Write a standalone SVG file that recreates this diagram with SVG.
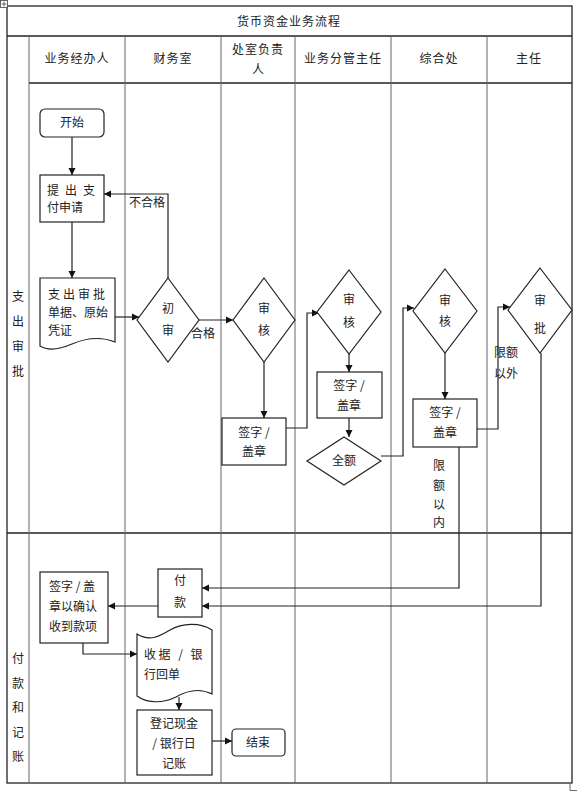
<svg xmlns="http://www.w3.org/2000/svg" width="577" height="791" viewBox="0 0 577 791">
<defs>
<marker id="ah" markerWidth="8" markerHeight="8" refX="7" refY="4" orient="auto" markerUnits="userSpaceOnUse"><path d="M0,0.5 L7,4 L0,7.5 Z" fill="#111"/></marker>
</defs>
<style>
text{font-family:"Noto Sans CJK SC","Noto Sans",sans-serif;font-size:12px;fill:#222}
.c{text-anchor:middle}
.n{fill:#fff;stroke:#222;stroke-width:1.2}
.ln{fill:none;stroke:#222;stroke-width:1.2;marker-end:url(#ah)}
.tl{stroke:#222;stroke-width:1.3;fill:none}
.cl{stroke:#666;stroke-width:1}
.sp{letter-spacing:3px}
</style>
<rect width="577" height="791" fill="#fff"/>
<g id="table">
<rect x="7" y="6" width="565" height="777" class="tl"/>
<line x1="7" y1="36" x2="572" y2="36" class="tl"/>
<line x1="29" y1="83" x2="572" y2="83" class="tl"/>
<line x1="7" y1="533" x2="572" y2="533" class="tl"/>
<line x1="29" y1="36" x2="29" y2="783" class="cl"/>
<line x1="125" y1="36" x2="125" y2="783" class="cl"/>
<line x1="221" y1="36" x2="221" y2="783" class="cl"/>
<line x1="295" y1="36" x2="295" y2="783" class="cl"/>
<line x1="391" y1="36" x2="391" y2="783" class="cl"/>
<line x1="487" y1="36" x2="487" y2="783" class="cl"/>
<text x="289" y="26" class="c" style="letter-spacing:1px">货币资金业务流程</text>
<text x="77" y="63" class="c" style="letter-spacing:1px">业务经办人</text>
<text x="173" y="63" class="c" style="letter-spacing:1px">财务室</text>
<text x="258" y="54" class="c" style="letter-spacing:1px">处室负责</text>
<text x="258" y="74" class="c">人</text>
<text x="343" y="63" class="c" style="letter-spacing:1px">业务分管主任</text>
<text x="439" y="63" class="c" style="letter-spacing:1px">综合处</text>
<text x="529" y="63" class="c" style="letter-spacing:1px">主任</text>
<text x="18" class="c"><tspan x="18" y="301">支</tspan><tspan x="18" y="326">出</tspan><tspan x="18" y="351">审</tspan><tspan x="18" y="376">批</tspan></text>
<text x="18" class="c"><tspan x="18" y="663">付</tspan><tspan x="18" y="688">款</tspan><tspan x="18" y="712">和</tspan><tspan x="18" y="737">记</tspan><tspan x="18" y="761">账</tspan></text>
<rect x="0.5" y="0.5" width="7" height="7" fill="#fff" stroke="#444" stroke-width="0.8"/>
<path d="M4,1.5 V6.5 M1.5,4 H6.5" stroke="#444" stroke-width="0.8"/>
<path d="M570,784 V790.5 H577" fill="none" stroke="#444" stroke-width="0.8"/>
</g>
<g id="connectors">
<path d="M72,137 V175" class="ln"/>
<path d="M72,222 V278" class="ln"/>
<path d="M115,317 H139" class="ln"/>
<path d="M168,278 V194 H104" class="ln"/>
<path d="M199,320 H233" class="ln"/>
<path d="M264,362 V418" class="ln"/>
<path d="M286,428 H307 V313 H319" class="ln"/>
<path d="M349,354 V372" class="ln"/>
<path d="M349,418 V437" class="ln"/>
<path d="M381,456 H403 V308 H414" class="ln"/>
<path d="M445,353 V399" class="ln"/>
<path d="M477,429 H498 V307 H510" class="ln"/>
<path d="M459,447 V588 H202" class="ln"/>
<path d="M541,353 V606 H202" class="ln"/>
<path d="M158,606 H108" class="ln"/>
<path d="M83,643 V654 H137" class="ln"/>
<path d="M179,697 V710" class="ln"/>
<path d="M212,741 H232" class="ln"/>
<text x="147" y="207" class="c">不合格</text>
<text x="203" y="338" class="c">合格</text>
<text x="494" y="357">限额</text>
<text x="494" y="378">以外</text>
<text class="c"><tspan x="439" y="470">限</tspan><tspan x="439" y="490">额</tspan><tspan x="439" y="509">以</tspan><tspan x="439" y="527">内</tspan></text>
</g>
<g id="start">
<rect x="40" y="109" width="64" height="28" rx="5" class="n"/>
<text x="72" y="127" class="c">开始</text>
</g>
<g id="apply">
<rect x="40" y="175" width="64" height="47" class="n"/>
<text x="47" y="195" style="letter-spacing:6px">提出支</text>
<text x="47" y="212">付申请</text>
</g>
<g id="doc1">
<path d="M40,278 H115 V342 C100,336 86,338 72,344 C58,350 48,351 40,346 Z" class="n"/>
<text x="48" y="299" class="sp">支出审批</text>
<text x="48" y="317">单据、原始</text>
<text x="48" y="335">凭证</text>
</g>
<g id="d-chushen">
<path d="M168,278 L199,320 L168,362 L137,320 Z" class="n"/>
<text x="168" y="313" class="c">初</text>
<text x="168" y="335" class="c">审</text>
</g>
<g id="d-shenhe1">
<path d="M264,278 L295,320 L264,362 L233,320 Z" class="n"/>
<text x="264" y="313" class="c">审</text>
<text x="264" y="335" class="c">核</text>
</g>
<g id="sign1">
<rect x="222" y="418" width="64" height="47" class="n"/>
<text x="254" y="437" class="c">签字 /</text>
<text x="254" y="456" class="c">盖章</text>
</g>
<g id="d-shenhe2">
<path d="M349,270 L381,312 L349,354 L317,312 Z" class="n"/>
<text x="349" y="304" class="c">审</text>
<text x="349" y="327" class="c">核</text>
</g>
<g id="sign2">
<rect x="317" y="372" width="65" height="46" class="n"/>
<text x="349" y="390" class="c">签字 /</text>
<text x="349" y="410" class="c">盖章</text>
</g>
<g id="d-quane">
<path d="M344,437 L381,461 L344,485 L307,461 Z" class="n"/>
<text x="344" y="465" class="c">全额</text>
</g>
<g id="d-shenhe3">
<path d="M445,269 L477,311 L445,353 L413,311 Z" class="n"/>
<text x="445" y="305" class="c">审</text>
<text x="445" y="326" class="c">核</text>
</g>
<g id="sign3">
<rect x="413" y="399" width="64" height="48" class="n"/>
<text x="445" y="417" class="c">签字 /</text>
<text x="445" y="437" class="c">盖章</text>
</g>
<g id="d-shenpi">
<path d="M540,268 L572,310 L540,353 L508,310 Z" class="n"/>
<text x="540" y="305" class="c">审</text>
<text x="540" y="333" class="c">批</text>
</g>
<g id="pay">
<rect x="158" y="569" width="44" height="48" class="n"/>
<text x="180" y="585" class="c">付</text>
<text x="180" y="607" class="c">款</text>
</g>
<g id="confirm">
<rect x="40" y="572" width="68" height="71" class="n"/>
<text x="49" y="591">签字 / 盖</text>
<text x="49" y="611">章以确认</text>
<text x="49" y="631">收到款项</text>
</g>
<g id="receipt">
<path d="M137,634 C150,642 160,636 170,630 C182,623 200,622 212,630 V694 C200,688 188,690 176,697 C164,703 148,704 137,696 Z" class="n"/>
<text x="144" y="659" style="letter-spacing:2.5px">收据 / 银</text>
<text x="144" y="679">行回单</text>
</g>
<g id="ledger">
<rect x="137" y="710" width="75" height="65" class="n"/>
<text x="174" y="728" class="c">登记现金</text>
<text x="174" y="748" class="c">/ 银行日</text>
<text x="174" y="768" class="c">记账</text>
</g>
<g id="end">
<rect x="232" y="729" width="53" height="27" rx="4" class="n"/>
<text x="258" y="747" class="c">结束</text>
</g>
</svg>
